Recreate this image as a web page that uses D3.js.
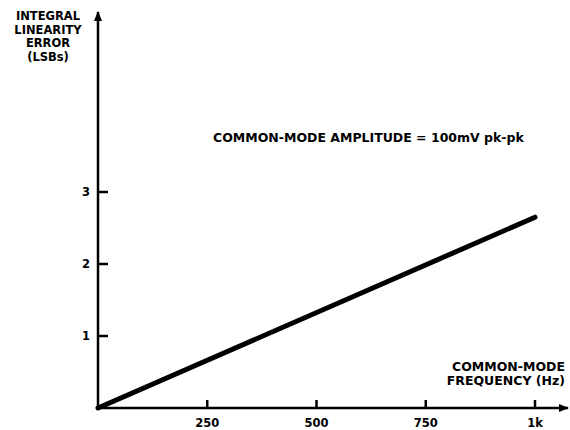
<!DOCTYPE html>
<html>
<head>
<meta charset="utf-8">
<script src="https://cdn.jsdelivr.net/npm/d3@7"></script>
<style>
  body { margin: 0; background: #fff; }
  text { font-family: "DejaVu Sans", Arial, sans-serif; font-weight: bold; fill: #000; }
</style>
</head>
<body>
<div id="chart"></div>
<script>
var frequency = [0, 1000];
var error = [0, 2.65];
var xTicks = [250, 500, 750, 1000];
var xTickLabels = ["250", "500", "750", "1k"];
var yTicks = [1, 2, 3];
var yTitle = ["INTEGRAL", "LINEARITY", "ERROR", "(LSBs)"];
var xTitle = ["COMMON-MODE", "FREQUENCY (Hz)"];
var note = "COMMON-MODE AMPLITUDE = 100mV pk-pk";

var size = { width: 570, height: 430 };

var svg = d3.select("#chart")
  .append("svg")
  .attr("width", size.width)
  .attr("height", size.height);

var x = d3.scaleLinear().domain([0, 1000]).range([98, 535]);
var y = d3.scaleLinear().domain([0, 3]).range([408, 192]);

/* axes lines with arrows */
svg.append("defs").append("marker")
  .attr("id", "arrow")
  .attr("viewBox", "0 0 10 10")
  .attr("refX", 9).attr("refY", 5)
  .attr("markerWidth", 4).attr("markerHeight", 4)
  .attr("orient", "auto")
  .append("path")
  .attr("d", "M0,1 L10,5 L0,9 Z")
  .style("fill", "#000");

svg.append("line")
  .attr("x1", x(0)).attr("y1", y(0))
  .attr("x2", x(0)).attr("y2", 12)
  .style("stroke", "#000").style("stroke-width", 2.5)
  .attr("marker-end", "url(#arrow)");

svg.append("line")
  .attr("x1", x(0)).attr("y1", y(0))
  .attr("x2", 568).attr("y2", y(0))
  .style("stroke", "#000").style("stroke-width", 2.5)
  .attr("marker-end", "url(#arrow)");

/* y ticks */
svg.selectAll(".ytick")
  .data(yTicks)
  .enter()
  .append("line")
  .attr("x1", x(0)).attr("x2", x(0) + 10)
  .attr("y1", (d) => y(d)).attr("y2", (d) => y(d))
  .style("stroke", "#000").style("stroke-width", 2.5);

svg.selectAll(".ylab")
  .data(yTicks)
  .enter()
  .append("text")
  .attr("x", x(0) - 8)
  .attr("y", (d) => y(d) + 4)
  .style("text-anchor", "end")
  .style("font-size", "11.5px")
  .text((d) => d);

/* x ticks */
svg.selectAll(".xtick")
  .data(xTicks)
  .enter()
  .append("line")
  .attr("x1", (d) => x(d)).attr("x2", (d) => x(d))
  .attr("y1", y(0)).attr("y2", y(0) - 8)
  .style("stroke", "#000").style("stroke-width", 2.5);

svg.selectAll(".xlab")
  .data(xTicks)
  .enter()
  .append("text")
  .attr("x", (d) => x(d))
  .attr("y", y(0) + 19)
  .style("text-anchor", "middle")
  .style("font-size", "11.5px")
  .text((d, i) => xTickLabels[i]);

/* titles */
svg.append("text")
  .attr("x", 48)
  .attr("y", 20)
  .style("text-anchor", "middle")
  .style("font-size", "11.5px")
  .selectAll("tspan")
  .data(yTitle)
  .enter()
  .append("tspan")
  .attr("x", 48)
  .attr("dy", (d, i) => i === 0 ? 0 : 13.5)
  .text((d) => d);

svg.append("text")
  .attr("x", 565)
  .attr("y", 371)
  .style("text-anchor", "end")
  .style("font-size", "12.5px")
  .selectAll("tspan")
  .data(xTitle)
  .enter()
  .append("tspan")
  .attr("x", 565)
  .attr("dy", (d, i) => i === 0 ? 0 : 14)
  .text((d) => d);

svg.append("text")
  .attr("x", 213)
  .attr("y", 142)
  .style("font-size", "12.5px")
  .text(note);

/* data line */
svg.append("path")
  .datum(frequency.map((f, i) => [f, error[i]]))
  .attr("d", d3.line().x((d) => x(d[0])).y((d) => y(d[1])))
  .style("fill", "none")
  .style("stroke", "#000")
  .style("stroke-width", 5)
  .style("stroke-linecap", "round");
</script>
</body>
</html>
